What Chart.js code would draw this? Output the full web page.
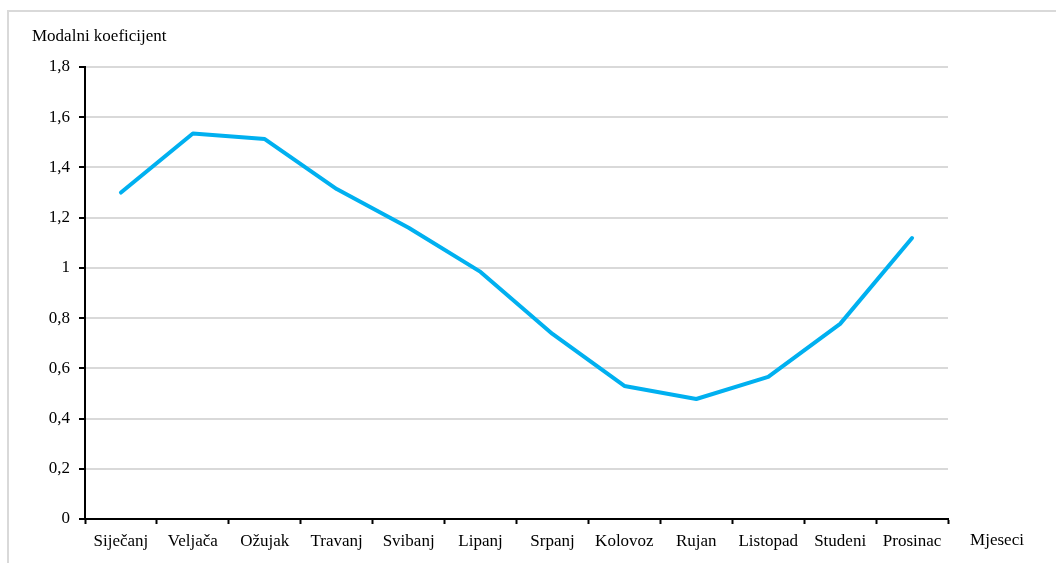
<!DOCTYPE html>
<html>
<head>
<meta charset="utf-8">
<script src="https://cdn.jsdelivr.net/npm/chart.js@4/dist/chart.umd.min.js"></script>
<style>
  html, body { margin: 0; padding: 0; background: #fff; }
  canvas { display: block; }
</style>
</head>
<body>
<canvas id="c" width="1056" height="563"></canvas>
<script>
const categories = ['Siječanj', 'Veljača', 'Ožujak', 'Travanj', 'Svibanj', 'Lipanj', 'Srpanj', 'Kolovoz', 'Rujan', 'Listopad', 'Studeni', 'Prosinac'];
const modalniKoeficijent = [1.30, 1.535, 1.513, 1.314, 1.16, 0.984, 0.737, 0.53, 0.478, 0.566, 0.777, 1.119];
const yTickValues = [0, 0.2, 0.4, 0.6, 0.8, 1, 1.2, 1.4, 1.6, 1.8];
const yAxisTitle = 'Modalni koeficijent';
const xAxisTitle = 'Mjeseci';

const FONT = "'Liberation Serif', 'Times New Roman', serif";
const FSIZE = 17;

const extras = {
  id: 'extras',
  beforeDraw(chart) {
    const ctx = chart.ctx;
    ctx.save();
    ctx.fillStyle = '#fff';
    ctx.fillRect(0, 0, chart.width, chart.height);
    ctx.strokeStyle = '#d9d9d9';
    ctx.lineWidth = 2;
    ctx.beginPath();
    ctx.moveTo(8, chart.height);
    ctx.lineTo(8, 11);
    ctx.lineTo(chart.width, 11);
    ctx.stroke();
    ctx.restore();
  },
  afterDraw(chart) {
    const ctx = chart.ctx;
    ctx.save();
    ctx.fillStyle = '#000';
    ctx.font = FSIZE + 'px ' + FONT;
    ctx.textBaseline = 'middle';
    ctx.textAlign = 'left';
    ctx.fillText(yAxisTitle, 32, 37);
    ctx.textAlign = 'center';
    ctx.fillText(xAxisTitle, 997, 541);
    ctx.restore();
  }
};

new Chart(document.getElementById('c'), {
  type: 'line',
  data: {
    labels: categories,
    datasets: [{
      data: modalniKoeficijent,
      borderColor: '#00b0f0',
      borderWidth: 4,
      pointRadius: 0,
      pointHoverRadius: 0,
      tension: 0,
      fill: false,
      borderCapStyle: 'round',
      borderJoinStyle: 'round'
    }]
  },
  options: {
    responsive: false,
    animation: false,
    devicePixelRatio: 1,
    layout: { padding: { top: 67, right: 108, left: 0, bottom: 0 } },
    plugins: { legend: { display: false }, tooltip: { enabled: false }, title: { display: false } },
    scales: {
      x: {
        offset: true,
        grid: { display: true, drawOnChartArea: false, offset: true, tickColor: '#000', tickLength: 5, tickWidth: 2 },
        border: { color: '#000', width: 2 },
        ticks: { color: '#000', font: { family: FONT, size: FSIZE }, padding: 7, maxRotation: 0, autoSkip: false },
        afterFit(scale) { scale.height = 44; }
      },
      y: {
        min: 0,
        max: 1.8,
        afterBuildTicks(scale) { scale.ticks = yTickValues.map(v => ({ value: v })); },
        grid: { color: '#d9d9d9', lineWidth: 2, tickColor: '#000', tickLength: 6, tickWidth: 2 },
        border: { color: '#000', width: 2 },
        ticks: {
          color: '#000',
          font: { family: FONT, size: FSIZE },
          padding: 9,
          callback: (v) => String(Math.round(v * 10) / 10).replace('.', ',')
        },
        afterFit(scale) { scale.width = 85; }
      }
    }
  },
  plugins: [extras]
});
</script>
</body>
</html>
